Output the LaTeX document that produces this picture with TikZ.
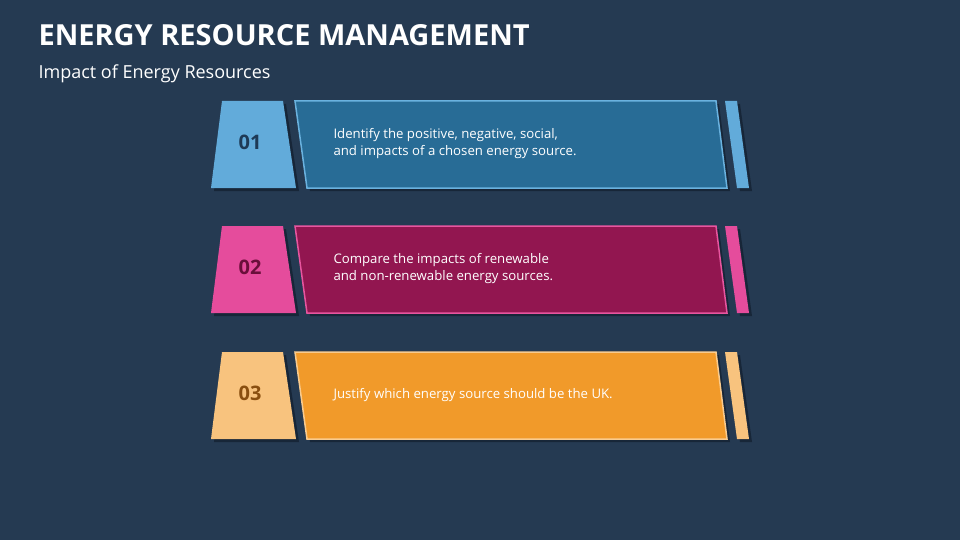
\documentclass[tikz,border=0pt]{standalone}
\usepackage{fontspec}
\setmainfont{Open Sans}
\definecolor{bg}{HTML}{253A52}
\definecolor{shd}{HTML}{172638}
\definecolor{la}{HTML}{62ABDA}\definecolor{ma}{HTML}{286C96}\definecolor{ba}{HTML}{6AB2DF}\definecolor{na}{HTML}{1E3A56}
\definecolor{lb}{HTML}{E54C9C}\definecolor{mb}{HTML}{921650}\definecolor{bb}{HTML}{E8559F}\definecolor{nb}{HTML}{6A0F3A}
\definecolor{lc}{HTML}{F8C37E}\definecolor{mc}{HTML}{F19A2A}\definecolor{bc}{HTML}{F9CB8E}\definecolor{nc}{HTML}{8A4F10}
\tikzset{txt/.style={text=white,font=\fontsize{13.2}{17}\selectfont,align=left,anchor=west},
num/.style={font=\bfseries\fontsize{20}{24}\selectfont}}
\newcommand{\rowdraw}[7]{%
 \begin{scope}[yshift=-#1pt]
  \fill[shd] ([shift={(3,-3)}]222,0) -- ([shift={(3,-3)}]283,0) -- ([shift={(3,-3)}]296,-87) -- ([shift={(3,-3)}]211,-87) -- cycle;
  \fill[shd] ([shift={(3,-3)}]295,0) -- ([shift={(3,-3)}]716,0) -- ([shift={(3,-3)}]727,-87) -- ([shift={(3,-3)}]307,-87) -- cycle;
  \fill[shd] ([shift={(3,-3)}]725,0) -- ([shift={(3,-3)}]737,0) -- ([shift={(3,-3)}]749,-87) -- ([shift={(3,-3)}]737,-87) -- cycle;
  \fill[#2] (222,0) -- (283,0) -- (296,-87) -- (211,-87) -- cycle;
  \filldraw[fill=#3,draw=#4,line width=1.5pt] (295,0) -- (716,0) -- (727,-87) -- (307,-87) -- cycle;
  \fill[#2] (725,0) -- (737,0) -- (749,-87) -- (737,-87) -- cycle;
  \node[num,text=#5] (n#6) at (250,-41.5) {#6};
  \node[txt] (t#6) at (330,-43) {#7};
 \end{scope}}
\begin{document}
\begin{tikzpicture}[x=1pt,y=1pt]
\fill[bg] (0,-540) rectangle (960,0);
\useasboundingbox (0,-540) rectangle (960,0);
\node[anchor=west,text=white,font=\bfseries\fontsize{29}{34}\selectfont] (title) at (35,-35) {ENERGY RESOURCE MANAGEMENT};
\node[anchor=west,text=white,font=\fontsize{18}{22}\selectfont] (sub) at (35,-74) {Impact of Energy Resources};
\rowdraw{101}{la}{ma}{ba}{na}{01}{Identify the positive, negative, social,\\and impacts of a chosen energy source.}
\rowdraw{226}{lb}{mb}{bb}{nb}{02}{Compare the impacts of renewable\\and non-renewable energy sources.}
\rowdraw{352}{lc}{mc}{bc}{nc}{03}{Justify which energy source should be the UK.}
\end{tikzpicture}
\end{document}
